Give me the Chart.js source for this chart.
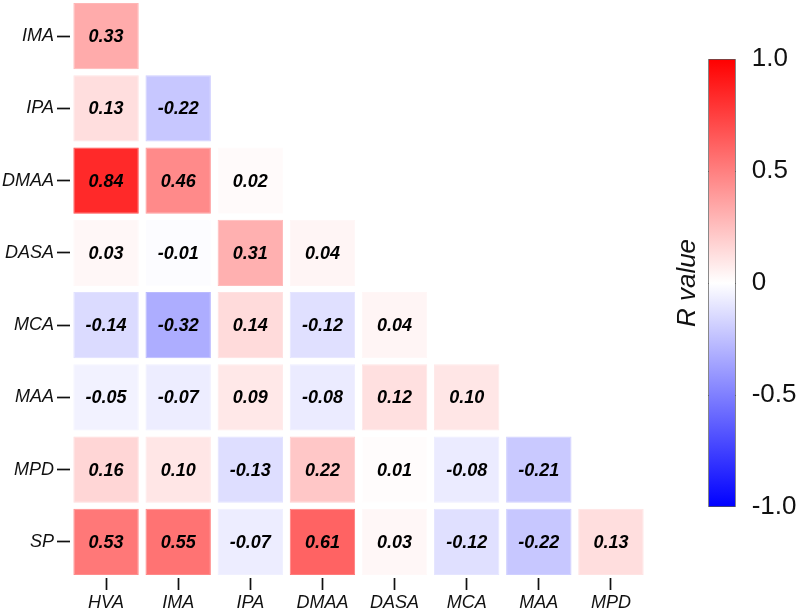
<!DOCTYPE html>
<html>
<head>
<meta charset="utf-8">
<script src="https://cdn.jsdelivr.net/npm/chart.js@4.4.1/dist/chart.umd.min.js"></script>
<style>
  html, body { margin: 0; padding: 0; background: #fff; }
  #wrap { position: relative; width: 804px; height: 612px; }
  #heat { position: absolute; left: 0; top: 0; width: 660px; height: 612px; }
  #cbar { position: absolute; left: 660px; top: 0; width: 144px; height: 612px; }
</style>
</head>
<body>
<div id="wrap">
  <div id="heat"><canvas id="heatChart"></canvas></div>
  <div id="cbar"><canvas id="cbarChart"></canvas></div>
</div>
<script>
// columns (x) and rows (y) of the lower-triangle correlation matrix
var colLabels = ['HVA', 'IMA', 'IPA', 'DMAA', 'DASA', 'MCA', 'MAA', 'MPD'];
var rowLabels = ['IMA', 'IPA', 'DMAA', 'DASA', 'MCA', 'MAA', 'MPD', 'SP'];

// R values, one array per row
var rIMA  = [0.33];
var rIPA  = [0.13, -0.22];
var rDMAA = [0.84, 0.46, 0.02];
var rDASA = [0.03, -0.01, 0.31, 0.04];
var rMCA  = [-0.14, -0.32, 0.14, -0.12, 0.04];
var rMAA  = [-0.05, -0.07, 0.09, -0.08, 0.12, 0.10];
var rMPD  = [0.16, 0.10, -0.13, 0.22, 0.01, -0.08, -0.21];
var rSP   = [0.53, 0.55, -0.07, 0.61, 0.03, -0.12, -0.22, 0.13];
var rows = [rIMA, rIPA, rDMAA, rDASA, rMCA, rMAA, rMPD, rSP];

// colour bar
var cbTicks = [-1, -0.5, 0, 0.5, 1];
var cbTickText = ['-1.0', '-0.5', '0', '0.5', '1.0'];

var FONT = "'Liberation Sans', Arial, sans-serif";
var HALF = 0.457; // half cell height in row units

function rColor(v) {
  if (v >= 0) {
    var g = Math.round(255 * (1 - v));
    return 'rgb(255,' + g + ',' + g + ')';
  }
  var b = Math.round(255 * (1 + v));
  return 'rgb(' + b + ',' + b + ',255)';
}

var datasets = rows.map(function (vals, r) {
  return {
    label: rowLabels[r],
    data: vals.map(function (v, c) {
      return { x: colLabels[c], y: [r - HALF, r + HALF], v: v };
    }),
    backgroundColor: function (ctx) { return rColor(ctx.raw ? ctx.raw.v : 0); },
    borderColor: function (ctx) { return rColor(ctx.raw ? ctx.raw.v * 0.85 : 0); },
    borderWidth: 1,
    borderSkipped: false,
    grouped: false,
    barPercentage: 0.907,
    categoryPercentage: 1.0
  };
});

var cellText = {
  id: 'cellText',
  afterDatasetsDraw: function (chart) {
    var ctx = chart.ctx;
    ctx.save();
    ctx.font = 'italic bold 18px ' + FONT;
    ctx.fillStyle = '#000';
    ctx.textAlign = 'center';
    ctx.textBaseline = 'middle';
    chart.data.datasets.forEach(function (ds, i) {
      chart.getDatasetMeta(i).data.forEach(function (el, j) {
        var p = el.getCenterPoint();
        ctx.fillText(ds.data[j].v.toFixed(2), p.x, p.y + 1);
      });
    });
    ctx.restore();
  }
};

var axisFont = { family: FONT, size: 18, style: 'italic' };

new Chart(document.getElementById('heatChart'), {
  type: 'bar',
  data: { labels: colLabels, datasets: datasets },
  options: {
    responsive: true,
    maintainAspectRatio: false,
    animation: false,
    layout: { padding: { left: 0, right: 13, top: 0, bottom: 0 } },
    plugins: { legend: { display: false }, tooltip: { enabled: false } },
    scales: {
      x: {
        type: 'category',
        offset: true,
        border: { display: false },
        grid: { offset: false, drawOnChartArea: false, drawTicks: true, tickLength: 12, tickColor: '#111', tickWidth: 1.7 },
        ticks: { font: axisFont, color: '#111', padding: 2, maxRotation: 0 },
        afterFit: function (s) { s.height = 34; s.paddingLeft = 0; s.paddingRight = 0; }
      },
      y: {
        type: 'linear',
        min: -0.5,
        max: 7.5,
        reverse: true,
        border: { display: false },
        grid: { drawOnChartArea: false, drawTicks: true, tickLength: 13, tickColor: '#111', tickWidth: 1.7 },
        ticks: {
          font: axisFont, color: '#111', padding: 3,
          callback: function (v) { return rowLabels[v]; }
        },
        afterBuildTicks: function (s) {
          s.ticks = rowLabels.map(function (_, i) { return { value: i }; });
        },
        afterFit: function (s) { s.width = 70; s.paddingTop = 0; s.paddingBottom = 0; }
      }
    }
  },
  plugins: [cellText]
});

new Chart(document.getElementById('cbarChart'), {
  type: 'bar',
  data: {
    labels: ['R'],
    datasets: [{
      data: [[-1, 1]],
      backgroundColor: function (ctx) {
        var area = ctx.chart.chartArea;
        if (!area) return '#fff';
        var g = ctx.chart.ctx.createLinearGradient(0, area.bottom, 0, area.top);
        g.addColorStop(0, 'rgb(0,0,255)');
        g.addColorStop(0.5, 'rgb(255,255,255)');
        g.addColorStop(1, 'rgb(255,0,0)');
        return g;
      },
      borderColor: '#555',
      borderWidth: 1,
      borderSkipped: false,
      barPercentage: 1,
      categoryPercentage: 1
    }]
  },
  options: {
    responsive: true,
    maintainAspectRatio: false,
    animation: false,
    layout: { padding: { top: 59, bottom: 105, left: 0, right: 0 } },
    plugins: { legend: { display: false }, tooltip: { enabled: false } },
    scales: {
      x: { display: false },
      y: {
        type: 'linear',
        position: 'right',
        min: -1,
        max: 1,
        border: { display: false, dash: [5, 17.4] },
        grid: {
          drawOnChartArea: true, drawTicks: false, lineWidth: 1,
          color: function (ctx) { return Math.abs(ctx.tick.value) === 1 ? 'rgba(0,0,0,0)' : '#444'; }
        },
        ticks: {
          font: { family: FONT, size: 26 }, color: '#111', padding: 16,
          callback: function (v) { return cbTickText[cbTicks.indexOf(v)]; }
        },
        afterBuildTicks: function (s) {
          s.ticks = cbTicks.map(function (v) { return { value: v }; });
        },
        afterFit: function (s) { s.width = 68.3; s.paddingTop = 0; s.paddingBottom = 0; }
      },
      yl: {
        type: 'linear',
        position: 'left',
        min: -1,
        max: 1,
        border: { display: false },
        grid: { display: false },
        ticks: { display: false },
        title: {
          display: true,
          text: 'R value',
          font: { family: FONT, size: 26, style: 'italic' },
          color: '#111',
          padding: { top: 12, bottom: 0 }
        },
        afterFit: function (s) { s.width = 48.3; }
      }
    }
  }
});
</script>
</body>
</html>
